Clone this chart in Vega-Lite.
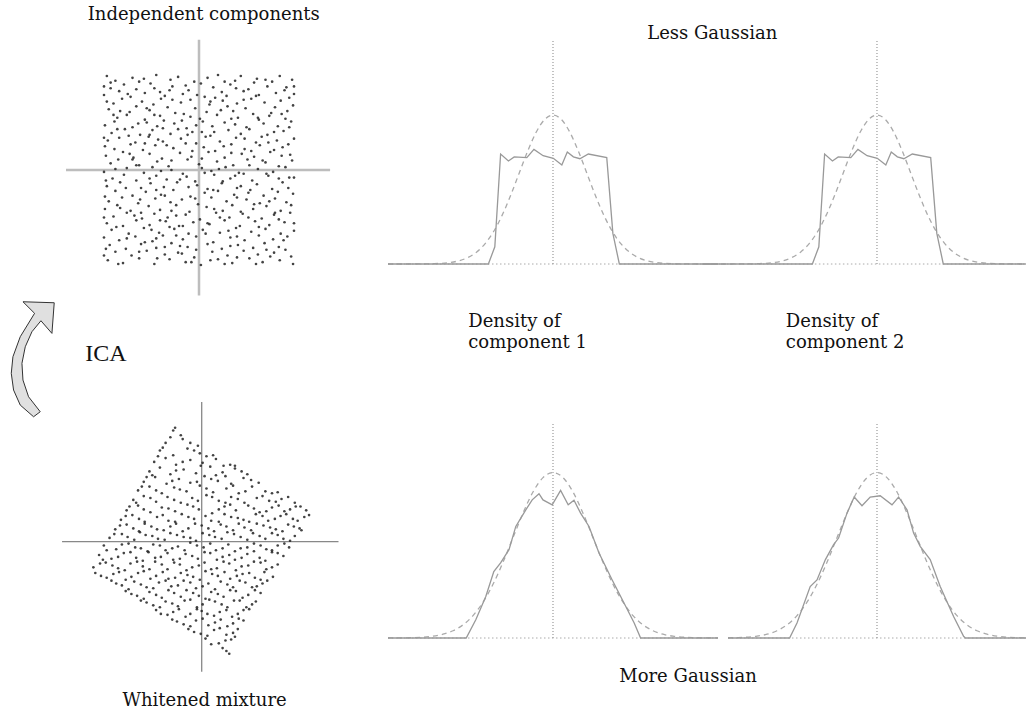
{
"$schema": "https://vega.github.io/schema/vega-lite/v6.json",
"width": 1030, "height": 710,
"autosize": {"type": "none"},
"padding": 0,
"background": "white",
"config": {"view": {"stroke": null}},
"datasets": {
"gauss": [{"x":-5.12,"d":0},{"x":-4.85,"d":0},{"x":-4.38,"d":0},{"x":-4.125,"d":0.0001},{"x":-3.725,"d":0.0004},{"x":-3.5,"d":0.0009},{"x":-3,"d":0.0044},{"x":-2.75,"d":0.0091},{"x":-2.5,"d":0.0175},{"x":-2.25,"d":0.0317},{"x":-2,"d":0.054},{"x":-1.75,"d":0.0863},{"x":-1.5,"d":0.1295},{"x":-1.25,"d":0.1826},{"x":-1,"d":0.242},{"x":-0.75,"d":0.3011},{"x":-0.5,"d":0.3521},{"x":-0.25,"d":0.3867},{"x":0,"d":0.3989},{"x":0.25,"d":0.3867},{"x":0.5,"d":0.3521},{"x":0.75,"d":0.3011},{"x":1,"d":0.242},{"x":1.25,"d":0.1826},{"x":1.5,"d":0.1295},{"x":1.75,"d":0.0863},{"x":2,"d":0.054},{"x":2.25,"d":0.0317},{"x":2.5,"d":0.0175},{"x":2.75,"d":0.0091},{"x":3,"d":0.0044},{"x":3.5,"d":0.0009},{"x":3.725,"d":0.0004},{"x":4.125,"d":0.0001},{"x":4.38,"d":0},{"x":4.85,"d":0},{"x":5.12,"d":0}],
"top": [{"x":-5.12,"d":0},{"x":-4.85,"d":0},{"x":-1.9,"d":0},{"x":-1.71,"d":0.046},{"x":-1.54,"d":0.2945},{"x":-1.31,"d":0.276},{"x":-1.14,"d":0.287},{"x":-0.77,"d":0.285},{"x":-0.56,"d":0.307},{"x":-0.29,"d":0.29},{"x":0.01,"d":0.283},{"x":0.26,"d":0.265},{"x":0.42,"d":0.3},{"x":0.6,"d":0.287},{"x":0.79,"d":0.282},{"x":1.04,"d":0.2945},{"x":1.58,"d":0.285},{"x":1.76,"d":0.082},{"x":1.95,"d":0},{"x":4.38,"d":0},{"x":4.85,"d":0}],
"bot1": [{"x":-4.125,"d":0},{"x":-2.17,"d":0},{"x":-1.93,"d":0.044},{"x":-1.68,"d":0.1},{"x":-1.48,"d":0.16},{"x":-1.31,"d":0.181},{"x":-1.1,"d":0.213},{"x":-0.93,"d":0.269},{"x":-0.68,"d":0.309},{"x":-0.52,"d":0.333},{"x":-0.35,"d":0.348},{"x":-0.25,"d":0.333},{"x":-0.02,"d":0.321},{"x":0.19,"d":0.356},{"x":0.38,"d":0.321},{"x":0.525,"d":0.332},{"x":0.69,"d":0.301},{"x":0.9,"d":0.269},{"x":1.15,"d":0.205},{"x":1.48,"d":0.14},{"x":1.82,"d":0.076},{"x":2.03,"d":0.036},{"x":2.19,"d":0},{"x":4.125,"d":0}],
"bot2": [{"x":-3.725,"d":0},{"x":-2.185,"d":0},{"x":-2,"d":0.036},{"x":-1.67,"d":0.124},{"x":-1.5,"d":0.14},{"x":-1.29,"d":0.189},{"x":-1.085,"d":0.225},{"x":-0.96,"d":0.241},{"x":-0.75,"d":0.301},{"x":-0.57,"d":0.34},{"x":-0.375,"d":0.319},{"x":-0.17,"d":0.34},{"x":0.08,"d":0.343},{"x":0.375,"d":0.321},{"x":0.54,"d":0.34},{"x":0.75,"d":0.309},{"x":0.915,"d":0.253},{"x":1.08,"d":0.221},{"x":1.33,"d":0.189},{"x":1.58,"d":0.124},{"x":1.915,"d":0.052},{"x":2.165,"d":0.004},{"x":2.21,"d":0},{"x":3.725,"d":0}],
"s1": [
{"x":-97,"y":99},{"x":-88,"y":94},{"x":-70,"y":97},{"x":-63,"y":93},{"x":-45,"y":100},{"x":-30,"y":95},{"x":-22,"y":98},{"x":-5,"y":93},{"x":9,"y":97},{"x":20,"y":100},{"x":38,"y":94},{"x":44,"y":99},{"x":61,"y":96},{"x":77,"y":93},{"x":85,"y":99},{"x":98,"y":95},
{"x":-93,"y":86},{"x":-79,"y":90},{"x":-66,"y":85},{"x":-51,"y":91},{"x":-47,"y":86},{"x":-28,"y":88},{"x":-11,"y":84},{"x":2,"y":91},{"x":15,"y":87},{"x":33,"y":90},{"x":52,"y":85},{"x":58,"y":92},{"x":72,"y":88},{"x":90,"y":84},
{"x":-100,"y":79},{"x":-84,"y":83},{"x":-72,"y":77},{"x":-57,"y":81},{"x":-36,"y":78},{"x":-31,"y":84},{"x":-17,"y":80},{"x":6,"y":77},{"x":24,"y":82},{"x":29,"y":78},{"x":47,"y":83},{"x":63,"y":79},{"x":81,"y":81},{"x":95,"y":76},
{"x":-90,"y":70},{"x":-81,"y":75},{"x":-60,"y":72},{"x":-48,"y":69},{"x":-40,"y":75},{"x":-19,"y":71},{"x":-9,"y":74},{"x":11,"y":69},{"x":25,"y":73},{"x":40,"y":70},{"x":55,"y":75},{"x":69,"y":71},{"x":86,"y":73},{"x":99,"y":68},
{"x":-95,"y":64},{"x":-73,"y":61},{"x":-66,"y":67},{"x":-52,"y":63},{"x":-33,"y":66},{"x":-25,"y":60},{"x":-4,"y":65},{"x":8,"y":61},{"x":30,"y":67},{"x":36,"y":62},{"x":49,"y":65},{"x":76,"y":60},{"x":80,"y":66},{"x":93,"y":62},
{"x":-86,"y":55},{"x":-76,"y":58},{"x":-57,"y":53},{"x":-41,"y":57},{"x":-37,"y":52},{"x":-16,"y":59},{"x":1,"y":54},{"x":19,"y":58},{"x":41,"y":55},{"x":57,"y":59},{"x":63,"y":53},{"x":74,"y":57},{"x":91,"y":54},
{"x":-99,"y":47},{"x":-89,"y":51},{"x":-70,"y":45},{"x":-55,"y":50},{"x":-44,"y":46},{"x":-26,"y":49},{"x":-13,"y":44},{"x":4,"y":51},{"x":14,"y":46},{"x":27,"y":50},{"x":50,"y":45},{"x":68,"y":49},{"x":83,"y":46},{"x":97,"y":51},
{"x":-92,"y":39},{"x":-78,"y":43},{"x":-62,"y":37},{"x":-49,"y":42},{"x":-30,"y":38},{"x":-22,"y":43},{"x":-7,"y":40},{"x":12,"y":36},{"x":31,"y":42},{"x":44,"y":38},{"x":53,"y":43},{"x":72,"y":37},{"x":89,"y":41},
{"x":-96,"y":31},{"x":-84,"y":34},{"x":-67,"y":29},{"x":-53,"y":35},{"x":-38,"y":30},{"x":-19,"y":33},{"x":-3,"y":28},{"x":7,"y":35},{"x":22,"y":30},{"x":39,"y":34},{"x":60,"y":29},{"x":66,"y":35},{"x":82,"y":31},{"x":100,"y":33},
{"x":-89,"y":22},{"x":-72,"y":27},{"x":-59,"y":21},{"x":-46,"y":26},{"x":-27,"y":23},{"x":-14,"y":28},{"x":5,"y":24},{"x":17,"y":20},{"x":34,"y":27},{"x":48,"y":22},{"x":64,"y":26},{"x":79,"y":21},{"x":94,"y":27},
{"x":-98,"y":15},{"x":-80,"y":19},{"x":-69,"y":13},{"x":-52,"y":17},{"x":-39,"y":12},{"x":-20,"y":18},{"x":-8,"y":14},{"x":10,"y":19},{"x":27,"y":13},{"x":45,"y":17},{"x":58,"y":14},{"x":75,"y":19},{"x":87,"y":15},
{"x":-93,"y":7},{"x":-85,"y":11},{"x":-63,"y":5},{"x":-44,"y":9},{"x":-32,"y":4},{"x":-12,"y":11},{"x":0,"y":6},{"x":19,"y":9},{"x":36,"y":5},{"x":51,"y":11},{"x":70,"y":8},{"x":84,"y":4},{"x":98,"y":10},
{"x":-100,"y":-2},{"x":-76,"y":2},{"x":-58,"y":-3},{"x":-49,"y":3},{"x":-29,"y":0},{"x":-17,"y":-4},{"x":3,"y":2},{"x":13,"y":-1},{"x":28,"y":3},{"x":42,"y":-3},{"x":62,"y":1},{"x":78,"y":-2},{"x":91,"y":3},
{"x":-91,"y":-9},{"x":-79,"y":-5},{"x":-66,"y":-11},{"x":-45,"y":-6},{"x":-34,"y":-10},{"x":-13,"y":-7},{"x":-4,"y":-12},{"x":16,"y":-5},{"x":33,"y":-9},{"x":47,"y":-4},{"x":56,"y":-11},{"x":73,"y":-6},{"x":95,"y":-8},
{"x":-97,"y":-17},{"x":-83,"y":-13},{"x":-61,"y":-19},{"x":-51,"y":-14},{"x":-37,"y":-18},{"x":-23,"y":-13},{"x":-2,"y":-16},{"x":9,"y":-20},{"x":24,"y":-14},{"x":40,"y":-19},{"x":61,"y":-15},{"x":77,"y":-20},{"x":88,"y":-13},
{"x":-88,"y":-22},{"x":-70,"y":-27},{"x":-56,"y":-23},{"x":-40,"y":-26},{"x":-27,"y":-21},{"x":-9,"y":-28},{"x":6,"y":-24},{"x":20,"y":-22},{"x":37,"y":-26},{"x":54,"y":-21},{"x":68,"y":-27},{"x":83,"y":-23},{"x":99,"y":-25},
{"x":-95,"y":-33},{"x":-81,"y":-29},{"x":-64,"y":-35},{"x":-46,"y":-30},{"x":-30,"y":-34},{"x":-18,"y":-31},{"x":-1,"y":-36},{"x":13,"y":-29},{"x":29,"y":-33},{"x":50,"y":-31},{"x":64,"y":-35},{"x":80,"y":-30},{"x":92,"y":-34},
{"x":-99,"y":-41},{"x":-86,"y":-37},{"x":-72,"y":-43},{"x":-53,"y":-38},{"x":-41,"y":-42},{"x":-24,"y":-37},{"x":-10,"y":-44},{"x":8,"y":-39},{"x":25,"y":-43},{"x":35,"y":-37},{"x":57,"y":-41},{"x":71,"y":-38},{"x":86,"y":-43},
{"x":-90,"y":-49},{"x":-76,"y":-45},{"x":-60,"y":-51},{"x":-47,"y":-46},{"x":-33,"y":-50},{"x":-14,"y":-47},{"x":1,"y":-52},{"x":18,"y":-45},{"x":32,"y":-50},{"x":46,"y":-46},{"x":66,"y":-51},{"x":79,"y":-47},{"x":96,"y":-45},
{"x":-97,"y":-56},{"x":-80,"y":-59},{"x":-66,"y":-53},{"x":-52,"y":-58},{"x":-35,"y":-54},{"x":-21,"y":-59},{"x":-6,"y":-55},{"x":11,"y":-57},{"x":27,"y":-53},{"x":43,"y":-59},{"x":59,"y":-54},{"x":74,"y":-58},{"x":90,"y":-55},
{"x":-92,"y":-63},{"x":-74,"y":-67},{"x":-58,"y":-61},{"x":-42,"y":-66},{"x":-26,"y":-62},{"x":-11,"y":-67},{"x":4,"y":-63},{"x":22,"y":-66},{"x":39,"y":-61},{"x":55,"y":-65},{"x":70,"y":-62},{"x":86,"y":-67},{"x":100,"y":-64},
{"x":-100,"y":-71},{"x":-84,"y":-74},{"x":-67,"y":-70},{"x":-49,"y":-75},{"x":-38,"y":-69},{"x":-17,"y":-73},{"x":-3,"y":-70},{"x":15,"y":-76},{"x":33,"y":-71},{"x":48,"y":-74},{"x":63,"y":-69},{"x":78,"y":-73},{"x":93,"y":-70},
{"x":-94,"y":-79},{"x":-77,"y":-83},{"x":-61,"y":-78},{"x":-45,"y":-82},{"x":-29,"y":-77},{"x":-12,"y":-81},{"x":9,"y":-78},{"x":24,"y":-83},{"x":41,"y":-79},{"x":57,"y":-82},{"x":69,"y":-77},{"x":84,"y":-81},
{"x":-88,"y":-86},{"x":-71,"y":-90},{"x":-55,"y":-85},{"x":-36,"y":-89},{"x":-22,"y":-87},{"x":-5,"y":-92},{"x":14,"y":-86},{"x":30,"y":-90},{"x":47,"y":-85},{"x":62,"y":-89},{"x":79,"y":-87},{"x":97,"y":-91},
{"x":-96,"y":-95},{"x":-80,"y":-98},{"x":-63,"y":-93},{"x":-47,"y":-99},{"x":-31,"y":-94},{"x":-14,"y":-97},{"x":2,"y":-100},{"x":20,"y":-94},{"x":35,"y":-98},{"x":53,"y":-93},{"x":67,"y":-97},{"x":85,"y":-95},{"x":99,"y":-99},
{"x":-93,"y":92},{"x":-58,"y":96},{"x":-14,"y":89},{"x":27,"y":93},{"x":70,"y":95},{"x":-75,"y":80},{"x":-41,"y":82},{"x":-2,"y":79},{"x":39,"y":86},{"x":92,"y":87},{"x":-97,"y":72},{"x":-28,"y":74},{"x":17,"y":76},{"x":60,"y":78},{"x":-83,"y":62},{"x":-47,"y":58},{"x":-9,"y":56},{"x":23,"y":63},{"x":87,"y":59},{"x":-64,"y":49},{"x":-18,"y":52},{"x":38,"y":48},{"x":62,"y":55},{"x":-86,"y":43},{"x":-38,"y":44},{"x":-3,"y":47},{"x":79,"y":40},{"x":95,"y":45},{"x":-74,"y":36},{"x":-43,"y":32},{"x":-12,"y":37},{"x":16,"y":40},{"x":48,"y":33},{"x":73,"y":29},{"x":-99,"y":25},{"x":-57,"y":28},{"x":-34,"y":26},{"x":26,"y":25},{"x":55,"y":20},{"x":88,"y":24},{"x":-73,"y":17},{"x":-29,"y":10},{"x":3,"y":12},{"x":34,"y":18},{"x":67,"y":10},{"x":96,"y":16},{"x":-88,"y":1},{"x":-66,"y":5},{"x":-40,"y":-1},{"x":6,"y":-3},{"x":21,"y":1},{"x":53,"y":5},{"x":71,"y":-4},{"x":-98,"y":-11},{"x":-52,"y":-9},{"x":-20,"y":-10},{"x":25,"y":-12},{"x":38,"y":-6},{"x":84,"y":-9},{"x":-77,"y":-19},{"x":-45,"y":-21},{"x":-11,"y":-18},{"x":15,"y":-21},{"x":52,"y":-24},{"x":94,"y":-19},{"x":-99,"y":-28},{"x":-62,"y":-31},{"x":-36,"y":-27},{"x":-4,"y":-30},{"x":40,"y":-29},{"x":74,"y":-33},{"x":-83,"y":-40},{"x":-61,"y":-45},{"x":-29,"y":-43},{"x":16,"y":-41},{"x":44,"y":-44},{"x":97,"y":-37},{"x":-68,"y":-48},{"x":-41,"y":-53},{"x":-24,"y":-48},{"x":9,"y":-56},{"x":52,"y":-50},{"x":84,"y":-52},{"x":-87,"y":-60},{"x":-50,"y":-63},{"x":-17,"y":-59},{"x":31,"y":-64},{"x":63,"y":-60},{"x":-76,"y":-72},{"x":-57,"y":-76},{"x":-24,"y":-69},{"x":7,"y":-67},{"x":40,"y":-70},{"x":89,"y":-74},{"x":-98,"y":-83},{"x":-36,"y":-81},{"x":-3,"y":-84},{"x":33,"y":-80},{"x":71,"y":-84},{"x":-63,"y":-86},{"x":-44,"y":-93},{"x":-18,"y":-88},{"x":12,"y":-95},{"x":40,"y":-92},{"x":75,"y":-91},{"x":91,"y":-84},{"x":-85,"y":-99},{"x":-8,"y":-97},{"x":27,"y":-99},{"x":60,"y":-99},{"x":-100,"y":88},{"x":-90,"y":58},{"x":-100,"y":34},{"x":-100,"y":-50},{"x":-100,"y":-90},{"x":100,"y":80},{"x":100,"y":-8},{"x":100,"y":-56},{"x":100,"y":88},{"x":-55,"y":65},{"x":12,"y":72},{"x":47,"y":74},{"x":-70,"y":11},{"x":80,"y":-45},{"x":-20,"y":-80},{"x":58,"y":-36},{"x":-52,"y":37},{"x":34,"y":54},{"x":-31,"y":-60},{"x":3,"y":40},{"x":22,"y":-50},{"x":-7,"y":20},{"x":44,"y":-17},{"x":-45,"y":-72}
],
"s2": [
{"x":-30,"y":117},{"x":-22,"y":112},
{"x":-38,"y":104},{"x":-20,"y":108},{"x":-4,"y":101},
{"x":-44,"y":96},{"x":-30,"y":91},{"x":-15,"y":98},{"x":-2,"y":93},{"x":12,"y":91},
{"x":-50,"y":84},{"x":-38,"y":88},{"x":-27,"y":81},{"x":-12,"y":86},{"x":1,"y":83},{"x":15,"y":87},{"x":30,"y":81},
{"x":-55,"y":74},{"x":-44,"y":78},{"x":-33,"y":71},{"x":-19,"y":76},{"x":-6,"y":72},{"x":9,"y":79},{"x":22,"y":73},{"x":35,"y":77},{"x":48,"y":71},
{"x":-61,"y":63},{"x":-49,"y":68},{"x":-37,"y":61},{"x":-24,"y":66},{"x":-12,"y":62},{"x":3,"y":69},{"x":17,"y":64},{"x":31,"y":61},{"x":44,"y":67},{"x":60,"y":62},
{"x":-67,"y":54},{"x":-55,"y":58},{"x":-42,"y":51},{"x":-29,"y":57},{"x":-16,"y":53},{"x":-2,"y":59},{"x":12,"y":52},{"x":26,"y":56},{"x":39,"y":51},{"x":53,"y":58},{"x":67,"y":53},{"x":80,"y":52},
{"x":-72,"y":44},{"x":-61,"y":48},{"x":-48,"y":42},{"x":-36,"y":47},{"x":-22,"y":41},{"x":-10,"y":46},{"x":5,"y":49},{"x":18,"y":43},{"x":31,"y":47},{"x":45,"y":41},{"x":58,"y":46},{"x":71,"y":43},{"x":84,"y":45},{"x":98,"y":41},
{"x":-79,"y":33},{"x":-67,"y":38},{"x":-54,"y":31},{"x":-42,"y":36},{"x":-28,"y":32},{"x":-15,"y":39},{"x":-3,"y":34},{"x":11,"y":30},{"x":24,"y":37},{"x":36,"y":33},{"x":49,"y":38},{"x":61,"y":31},{"x":74,"y":36},{"x":87,"y":32},{"x":99,"y":37},{"x":110,"y":33},
{"x":-85,"y":23},{"x":-73,"y":28},{"x":-60,"y":21},{"x":-47,"y":26},{"x":-35,"y":22},{"x":-21,"y":29},{"x":-8,"y":24},{"x":4,"y":27},{"x":18,"y":21},{"x":31,"y":26},{"x":44,"y":23},{"x":57,"y":29},{"x":70,"y":22},{"x":83,"y":27},{"x":96,"y":24},{"x":108,"y":26},
{"x":-91,"y":13},{"x":-79,"y":18},{"x":-66,"y":11},{"x":-53,"y":16},{"x":-40,"y":12},{"x":-27,"y":19},{"x":-14,"y":14},{"x":0,"y":17},{"x":13,"y":11},{"x":26,"y":16},{"x":39,"y":19},{"x":52,"y":12},{"x":65,"y":17},{"x":78,"y":13},{"x":91,"y":18},{"x":103,"y":14},
{"x":-97,"y":4},{"x":-84,"y":8},{"x":-71,"y":2},{"x":-59,"y":7},{"x":-46,"y":3},{"x":-33,"y":9},{"x":-19,"y":5},{"x":-6,"y":1},{"x":8,"y":7},{"x":21,"y":3},{"x":34,"y":8},{"x":48,"y":2},{"x":61,"y":6},{"x":74,"y":9},{"x":86,"y":3},{"x":98,"y":6},
{"x":-103,"y":-4},{"x":-90,"y":-8},{"x":-77,"y":-2},{"x":-64,"y":-7},{"x":-51,"y":-3},{"x":-38,"y":-9},{"x":-25,"y":-5},{"x":-12,"y":-1},{"x":2,"y":-6},{"x":15,"y":-9},{"x":28,"y":-3},{"x":41,"y":-7},{"x":55,"y":-2},{"x":68,"y":-8},{"x":80,"y":-4},{"x":92,"y":-6},
{"x":-108,"y":-14},{"x":-95,"y":-18},{"x":-82,"y":-12},{"x":-69,"y":-17},{"x":-56,"y":-11},{"x":-43,"y":-16},{"x":-30,"y":-19},{"x":-17,"y":-13},{"x":-4,"y":-18},{"x":9,"y":-12},{"x":22,"y":-16},{"x":35,"y":-19},{"x":48,"y":-13},{"x":61,"y":-17},{"x":74,"y":-11},{"x":86,"y":-15},
{"x":-114,"y":-27},{"x":-101,"y":-22},{"x":-88,"y":-28},{"x":-75,"y":-23},{"x":-62,"y":-26},{"x":-49,"y":-21},{"x":-36,"y":-29},{"x":-23,"y":-24},{"x":-10,"y":-27},{"x":3,"y":-22},{"x":16,"y":-28},{"x":29,"y":-23},{"x":42,"y":-26},{"x":55,"y":-21},{"x":68,"y":-29},{"x":80,"y":-24},
{"x":-112,"y":-33},{"x":-100,"y":-38},{"x":-87,"y":-32},{"x":-74,"y":-37},{"x":-61,"y":-31},{"x":-48,"y":-36},{"x":-35,"y":-39},{"x":-22,"y":-33},{"x":-9,"y":-37},{"x":4,"y":-31},{"x":17,"y":-36},{"x":30,"y":-39},{"x":43,"y":-34},{"x":56,"y":-38},{"x":66,"y":-32},{"x":75,"y":-37},
{"x":-95,"y":-41},{"x":-84,"y":-46},{"x":-71,"y":-42},{"x":-58,"y":-48},{"x":-45,"y":-43},{"x":-32,"y":-47},{"x":-19,"y":-41},{"x":-6,"y":-49},{"x":7,"y":-44},{"x":20,"y":-42},{"x":33,"y":-48},{"x":46,"y":-43},{"x":58,"y":-47},{"x":69,"y":-41},
{"x":-80,"y":-52},{"x":-68,"y":-57},{"x":-55,"y":-53},{"x":-42,"y":-59},{"x":-29,"y":-54},{"x":-16,"y":-51},{"x":-3,"y":-57},{"x":10,"y":-53},{"x":23,"y":-58},{"x":36,"y":-52},{"x":49,"y":-56},{"x":62,"y":-54},
{"x":-64,"y":-62},{"x":-51,"y":-67},{"x":-38,"y":-63},{"x":-25,"y":-68},{"x":-12,"y":-61},{"x":1,"y":-66},{"x":14,"y":-63},{"x":27,"y":-69},{"x":40,"y":-62},{"x":53,"y":-66},
{"x":-48,"y":-72},{"x":-36,"y":-77},{"x":-24,"y":-71},{"x":-12,"y":-76},{"x":0,"y":-73},{"x":13,"y":-78},{"x":26,"y":-72},{"x":38,"y":-76},{"x":50,"y":-71},
{"x":-31,"y":-82},{"x":-19,"y":-87},{"x":-6,"y":-83},{"x":7,"y":-88},{"x":20,"y":-82},{"x":33,"y":-86},{"x":44,"y":-83},
{"x":-14,"y":-92},{"x":-1,"y":-97},{"x":13,"y":-93},{"x":26,"y":-98},{"x":38,"y":-92},
{"x":4,"y":-102},{"x":18,"y":-107},{"x":31,"y":-103},
{"x":22,"y":-112},{"x":29,"y":-118},
{"x":-33,"y":110},{"x":-12,"y":104},{"x":-28,"y":120},
{"x":-41,"y":99},{"x":-8,"y":96},{"x":5,"y":90},
{"x":-46,"y":90},{"x":-20,"y":84},{"x":23,"y":80},{"x":35,"y":80},
{"x":-52,"y":70},{"x":-27,"y":75},{"x":-1,"y":80},{"x":15,"y":70},{"x":42,"y":74},
{"x":-58,"y":68},{"x":-31,"y":64},{"x":-5,"y":63},{"x":10,"y":66},{"x":25,"y":69},{"x":52,"y":65},
{"x":-63,"y":58},{"x":-48,"y":54},{"x":-23,"y":55},{"x":5,"y":56},{"x":33,"y":59},{"x":46,"y":53},{"x":74,"y":51},
{"x":-69,"y":41},{"x":-54,"y":46},{"x":-29,"y":44},{"x":-4,"y":43},{"x":11,"y":47},{"x":25,"y":41},{"x":38,"y":45},{"x":64,"y":48},{"x":78,"y":42},{"x":91,"y":47},
{"x":-76,"y":37},{"x":-61,"y":34},{"x":-35,"y":35},{"x":-9,"y":37},{"x":18,"y":34},{"x":30,"y":39},{"x":55,"y":35},{"x":68,"y":32},{"x":81,"y":38},{"x":93,"y":34},{"x":104,"y":37},
{"x":-80,"y":27},{"x":-66,"y":24},{"x":-41,"y":28},{"x":-28,"y":21},{"x":-14,"y":26},{"x":10,"y":22},{"x":24,"y":29},{"x":38,"y":25},{"x":50,"y":21},{"x":64,"y":27},{"x":77,"y":24},{"x":89,"y":29},{"x":101,"y":22},{"x":113,"y":28},
{"x":-86,"y":17},{"x":-72,"y":14},{"x":-60,"y":19},{"x":-47,"y":13},{"x":-33,"y":16},{"x":-20,"y":11},{"x":-7,"y":19},{"x":7,"y":14},{"x":20,"y":18},{"x":33,"y":12},{"x":45,"y":15},{"x":58,"y":19},{"x":72,"y":15},{"x":85,"y":11},{"x":97,"y":16},{"x":105,"y":12},
{"x":-92,"y":8},{"x":-78,"y":5},{"x":-65,"y":10},{"x":-52,"y":6},{"x":-39,"y":2},{"x":-26,"y":7},{"x":-12,"y":4},{"x":1,"y":9},{"x":14,"y":5},{"x":27,"y":10},{"x":41,"y":5},{"x":54,"y":9},{"x":67,"y":3},{"x":80,"y":7},{"x":93,"y":1},
{"x":-100,"y":-9},{"x":-84,"y":-3},{"x":-70,"y":-6},{"x":-57,"y":-10},{"x":-44,"y":-4},{"x":-31,"y":-7},{"x":-18,"y":-9},{"x":-5,"y":-4},{"x":9,"y":-2},{"x":22,"y":-7},{"x":35,"y":-10},{"x":48,"y":-6},{"x":62,"y":-4},{"x":74,"y":-9},{"x":87,"y":-2},
{"x":-104,"y":-19},{"x":-88,"y":-16},{"x":-75,"y":-11},{"x":-62,"y":-20},{"x":-49,"y":-17},{"x":-36,"y":-12},{"x":-23,"y":-18},{"x":-10,"y":-15},{"x":3,"y":-11},{"x":16,"y":-19},{"x":29,"y":-14},{"x":42,"y":-17},{"x":55,"y":-10},{"x":67,"y":-20},{"x":80,"y":-12},
{"x":-107,"y":-23},{"x":-94,"y":-25},{"x":-81,"y":-30},{"x":-68,"y":-21},{"x":-55,"y":-29},{"x":-42,"y":-24},{"x":-29,"y":-22},{"x":-16,"y":-30},{"x":-3,"y":-25},{"x":10,"y":-29},{"x":23,"y":-21},{"x":36,"y":-30},{"x":49,"y":-25},{"x":62,"y":-22},{"x":74,"y":-27},
{"x":-106,"y":-36},{"x":-93,"y":-34},{"x":-80,"y":-40},{"x":-67,"y":-33},{"x":-54,"y":-39},{"x":-41,"y":-32},{"x":-28,"y":-38},{"x":-15,"y":-35},{"x":-2,"y":-40},{"x":11,"y":-34},{"x":24,"y":-32},{"x":37,"y":-36},{"x":50,"y":-33},{"x":62,"y":-40},
{"x":-90,"y":-44},{"x":-77,"y":-50},{"x":-64,"y":-45},{"x":-51,"y":-49},{"x":-38,"y":-41},{"x":-25,"y":-46},{"x":-12,"y":-43},{"x":1,"y":-47},{"x":14,"y":-50},{"x":27,"y":-45},{"x":40,"y":-41},{"x":53,"y":-48},{"x":64,"y":-44},
{"x":-74,"y":-55},{"x":-61,"y":-60},{"x":-48,"y":-56},{"x":-35,"y":-51},{"x":-22,"y":-58},{"x":-9,"y":-54},{"x":4,"y":-60},{"x":17,"y":-55},{"x":30,"y":-51},{"x":43,"y":-59},{"x":56,"y":-51},
{"x":-58,"y":-64},{"x":-44,"y":-69},{"x":-31,"y":-65},{"x":-18,"y":-62},{"x":-5,"y":-69},{"x":8,"y":-61},{"x":21,"y":-66},{"x":34,"y":-62},{"x":47,"y":-69},{"x":57,"y":-63},
{"x":-43,"y":-76},{"x":-30,"y":-74},{"x":-17,"y":-79},{"x":-5,"y":-71},{"x":6,"y":-76},{"x":19,"y":-74},{"x":32,"y":-79},{"x":44,"y":-72},
{"x":-26,"y":-84},{"x":-12,"y":-89},{"x":1,"y":-81},{"x":14,"y":-85},{"x":27,"y":-89},{"x":39,"y":-81},
{"x":-8,"y":-95},{"x":6,"y":-99},{"x":19,"y":-91},{"x":33,"y":-96},
{"x":10,"y":-108},{"x":25,"y":-104},{"x":35,"y":-100},
{"x":26,"y":-115}
]
},
"data": {"values": [{}]},
"resolve": {"scale": {"x": "independent", "y": "independent"}},
"layer": [
{"layer": [
{"mark": {"type": "rule", "color": "#bdbdbd", "strokeWidth": 2.5}, "encoding": {"x": {"datum": -140, "type": "quantitative", "scale": {"domain": [-150,150], "range": [56.5,341.5], "nice": false, "zero": false}, "axis": null}, "x2": {"datum": 138}, "y": {"datum": 0, "type": "quantitative", "scale": {"domain": [-150,150], "range": [312.5,27.5], "nice": false, "zero": false}, "axis": null}}},
{"mark": {"type": "rule", "color": "#bdbdbd", "strokeWidth": 2.5}, "encoding": {"x": {"datum": 0, "type": "quantitative", "scale": {"domain": [-150,150], "range": [56.5,341.5], "nice": false, "zero": false}, "axis": null}, "y": {"datum": -132, "type": "quantitative", "scale": {"domain": [-150,150], "range": [312.5,27.5], "nice": false, "zero": false}, "axis": null}, "y2": {"datum": 137}}},
{"data": {"name": "s1"}, "mark": {"type": "point", "filled": true, "size": 7, "color": "#222", "opacity": 0.85}, "encoding": {"x": {"field": "x", "type": "quantitative", "scale": {"domain": [-150,150], "range": [56.5,341.5], "nice": false, "zero": false}, "axis": null}, "y": {"field": "y", "type": "quantitative", "scale": {"domain": [-150,150], "range": [312.5,27.5], "nice": false, "zero": false}, "axis": null}}},
{"mark": {"type": "text", "text": "Independent components", "font": "DejaVu Serif", "fontSize": 18, "align": "center", "baseline": "alphabetic", "color": "#111"}, "encoding": {"x": {"datum": 5, "type": "quantitative", "scale": {"domain": [-150,150], "range": [56.5,341.5], "nice": false, "zero": false}, "axis": null}, "y": {"datum": 158, "type": "quantitative", "scale": {"domain": [-150,150], "range": [312.5,27.5], "nice": false, "zero": false}, "axis": null}}},
{"mark": {"type": "text", "text": "ICA", "font": "Liberation Serif", "fontSize": 24, "align": "center", "baseline": "alphabetic", "color": "#111"}, "encoding": {"x": {"datum": -98, "type": "quantitative", "scale": {"domain": [-150,150], "range": [56.5,341.5], "nice": false, "zero": false}, "axis": null}, "y": {"datum": -201, "type": "quantitative", "scale": {"domain": [-150,150], "range": [312.5,27.5], "nice": false, "zero": false}, "axis": null}}},
{"mark": {"type": "point", "shape": "M-0.166,-0.971L0.364,-0.954L0.325,-0.435L0.139,-0.649L-0.014,-0.463L-0.127,-0.208L-0.183,0.073L-0.166,0.356L-0.071,0.639L0.127,0.893L0.014,0.978L-0.212,0.78L-0.325,0.525L-0.364,0.242L-0.336,-0.039L-0.212,-0.378L0.031,-0.775Z", "size": 13924, "filled": true, "fill": "#e0e0e0", "stroke": "#333", "strokeWidth": 1, "opacity": 1, "fillOpacity": 1}, "encoding": {"x": {"datum": -175, "type": "quantitative", "scale": {"domain": [-150,150], "range": [56.5,341.5], "nice": false, "zero": false}, "axis": null}, "y": {"datum": -199, "type": "quantitative", "scale": {"domain": [-150,150], "range": [312.5,27.5], "nice": false, "zero": false}, "axis": null}}}
]},
{"layer": [
{"mark": {"type": "rule", "color": "#888", "strokeWidth": 1.3}, "encoding": {"x": {"datum": -147, "type": "quantitative", "scale": {"domain": [-150,150], "range": [59.2,344.2], "nice": false, "zero": false}, "axis": null}, "x2": {"datum": 144}, "y": {"datum": 0, "type": "quantitative", "scale": {"domain": [-150,150], "range": [684.2,399.2], "nice": false, "zero": false}, "axis": null}}},
{"mark": {"type": "rule", "color": "#888", "strokeWidth": 1.3}, "encoding": {"x": {"datum": 0, "type": "quantitative", "scale": {"domain": [-150,150], "range": [59.2,344.2], "nice": false, "zero": false}, "axis": null}, "y": {"datum": -137, "type": "quantitative", "scale": {"domain": [-150,150], "range": [684.2,399.2], "nice": false, "zero": false}, "axis": null}, "y2": {"datum": 147}}},
{"data": {"name": "s2"}, "mark": {"type": "point", "filled": true, "size": 7, "color": "#222", "opacity": 0.85}, "encoding": {"x": {"field": "x", "type": "quantitative", "scale": {"domain": [-150,150], "range": [59.2,344.2], "nice": false, "zero": false}, "axis": null}, "y": {"field": "y", "type": "quantitative", "scale": {"domain": [-150,150], "range": [684.2,399.2], "nice": false, "zero": false}, "axis": null}}},
{"mark": {"type": "text", "text": "Whitened mixture", "font": "DejaVu Serif", "fontSize": 18, "align": "center", "baseline": "alphabetic", "color": "#111"}, "encoding": {"x": {"datum": 3, "type": "quantitative", "scale": {"domain": [-150,150], "range": [59.2,344.2], "nice": false, "zero": false}, "axis": null}, "y": {"datum": -173, "type": "quantitative", "scale": {"domain": [-150,150], "range": [684.2,399.2], "nice": false, "zero": false}, "axis": null}}}
]},
{"layer": [
{"mark": {"type": "rule", "color": "#aaa", "strokeWidth": 1, "strokeDash": [1.5,2.5]}, "encoding": {"x": {"datum": -4.85, "type": "quantitative", "scale": {"domain": [-4.85,4.85], "range": [388,718], "nice": false, "zero": false}, "axis": null}, "x2": {"datum": 4.85}, "y": {"datum": 0, "type": "quantitative", "scale": {"domain": [0,0.6], "range": [264,40], "nice": false, "zero": false}, "axis": null}}},
{"mark": {"type": "rule", "color": "#999", "strokeWidth": 1.2, "strokeDash": [1,2]}, "encoding": {"x": {"datum": 0, "type": "quantitative", "scale": {"domain": [-4.85,4.85], "range": [388,718], "nice": false, "zero": false}, "axis": null}, "y": {"datum": 0, "type": "quantitative", "scale": {"domain": [0,0.6], "range": [264,40], "nice": false, "zero": false}, "axis": null}, "y2": {"datum": 0.6}}},
{"data": {"name": "gauss"}, "transform": [{"filter": {"field": "x", "range": [-4.86,4.86]}}], "mark": {"type": "line", "color": "#aaa", "strokeWidth": 1.3, "strokeDash": [5,4], "interpolate": "monotone"}, "encoding": {"x": {"field": "x", "type": "quantitative", "scale": {"domain": [-4.85,4.85], "range": [388,718], "nice": false, "zero": false}, "axis": null}, "y": {"field": "d", "type": "quantitative", "scale": {"domain": [0,0.6], "range": [264,40], "nice": false, "zero": false}, "axis": null}}},
{"data": {"name": "top"}, "transform": [{"filter": {"field": "x", "range": [-4.86,4.86]}}], "mark": {"type": "line", "color": "#999", "strokeWidth": 1.3}, "encoding": {"x": {"field": "x", "type": "quantitative", "scale": {"domain": [-4.85,4.85], "range": [388,718], "nice": false, "zero": false}, "axis": null}, "y": {"field": "d", "type": "quantitative", "scale": {"domain": [0,0.6], "range": [264,40], "nice": false, "zero": false}, "axis": null}}},
{"mark": {"type": "text", "text": "Less Gaussian", "font": "DejaVu Serif", "fontSize": 18, "align": "center", "baseline": "alphabetic", "color": "#111"}, "encoding": {"x": {"datum": 4.68, "type": "quantitative", "scale": {"domain": [-4.85,4.85], "range": [388,718], "nice": false, "zero": false}, "axis": null}, "y": {"datum": 0.604, "type": "quantitative", "scale": {"domain": [0,0.6], "range": [264,40], "nice": false, "zero": false}, "axis": null}}},
{"mark": {"type": "text", "text": ["Density of", "component 1"], "lineHeight": 21, "font": "DejaVu Serif", "fontSize": 18, "align": "left", "baseline": "alphabetic", "color": "#111"}, "encoding": {"x": {"datum": -2.49, "type": "quantitative", "scale": {"domain": [-4.85,4.85], "range": [388,718], "nice": false, "zero": false}, "axis": null}, "y": {"datum": -0.168, "type": "quantitative", "scale": {"domain": [0,0.6], "range": [264,40], "nice": false, "zero": false}, "axis": null}}}
]},
{"layer": [
{"mark": {"type": "rule", "color": "#aaa", "strokeWidth": 1, "strokeDash": [1.5,2.5]}, "encoding": {"x": {"datum": -5.12, "type": "quantitative", "scale": {"domain": [-5.12,4.38], "range": [702.9,1025.9], "nice": false, "zero": false}, "axis": null}, "x2": {"datum": 4.38}, "y": {"datum": 0, "type": "quantitative", "scale": {"domain": [0,0.6], "range": [264,40], "nice": false, "zero": false}, "axis": null}}},
{"mark": {"type": "rule", "color": "#999", "strokeWidth": 1.2, "strokeDash": [1,2]}, "encoding": {"x": {"datum": 0, "type": "quantitative", "scale": {"domain": [-5.12,4.38], "range": [702.9,1025.9], "nice": false, "zero": false}, "axis": null}, "y": {"datum": 0, "type": "quantitative", "scale": {"domain": [0,0.6], "range": [264,40], "nice": false, "zero": false}, "axis": null}, "y2": {"datum": 0.6}}},
{"data": {"name": "gauss"}, "transform": [{"filter": {"field": "x", "range": [-5.13,4.39]}}], "mark": {"type": "line", "color": "#aaa", "strokeWidth": 1.3, "strokeDash": [5,4], "interpolate": "monotone"}, "encoding": {"x": {"field": "x", "type": "quantitative", "scale": {"domain": [-5.12,4.38], "range": [702.9,1025.9], "nice": false, "zero": false}, "axis": null}, "y": {"field": "d", "type": "quantitative", "scale": {"domain": [0,0.6], "range": [264,40], "nice": false, "zero": false}, "axis": null}}},
{"data": {"name": "top"}, "transform": [{"filter": {"field": "x", "range": [-5.13,4.39]}}], "mark": {"type": "line", "color": "#999", "strokeWidth": 1.3}, "encoding": {"x": {"field": "x", "type": "quantitative", "scale": {"domain": [-5.12,4.38], "range": [702.9,1025.9], "nice": false, "zero": false}, "axis": null}, "y": {"field": "d", "type": "quantitative", "scale": {"domain": [0,0.6], "range": [264,40], "nice": false, "zero": false}, "axis": null}}},
{"mark": {"type": "text", "text": ["Density of", "component 2"], "lineHeight": 21, "font": "DejaVu Serif", "fontSize": 18, "align": "left", "baseline": "alphabetic", "color": "#111"}, "encoding": {"x": {"datum": -2.68, "type": "quantitative", "scale": {"domain": [-5.12,4.38], "range": [702.9,1025.9], "nice": false, "zero": false}, "axis": null}, "y": {"datum": -0.168, "type": "quantitative", "scale": {"domain": [0,0.6], "range": [264,40], "nice": false, "zero": false}, "axis": null}}}
]},
{"layer": [
{"mark": {"type": "rule", "color": "#aaa", "strokeWidth": 1, "strokeDash": [1.5,2.5]}, "encoding": {"x": {"datum": -4.125, "type": "quantitative", "scale": {"domain": [-4.125,4.125], "range": [388,718], "nice": false, "zero": false}, "axis": null}, "x2": {"datum": 4.125}, "y": {"datum": 0, "type": "quantitative", "scale": {"domain": [0,0.516], "range": [638,424], "nice": false, "zero": false}, "axis": null}}},
{"mark": {"type": "rule", "color": "#999", "strokeWidth": 1.2, "strokeDash": [1,2]}, "encoding": {"x": {"datum": 0, "type": "quantitative", "scale": {"domain": [-4.125,4.125], "range": [388,718], "nice": false, "zero": false}, "axis": null}, "y": {"datum": 0, "type": "quantitative", "scale": {"domain": [0,0.516], "range": [638,424], "nice": false, "zero": false}, "axis": null}, "y2": {"datum": 0.516}}},
{"data": {"name": "gauss"}, "transform": [{"filter": {"field": "x", "range": [-4.13,4.13]}}], "mark": {"type": "line", "color": "#aaa", "strokeWidth": 1.3, "strokeDash": [5,4], "interpolate": "monotone"}, "encoding": {"x": {"field": "x", "type": "quantitative", "scale": {"domain": [-4.125,4.125], "range": [388,718], "nice": false, "zero": false}, "axis": null}, "y": {"field": "d", "type": "quantitative", "scale": {"domain": [0,0.516], "range": [638,424], "nice": false, "zero": false}, "axis": null}}},
{"data": {"name": "bot1"}, "mark": {"type": "line", "color": "#999", "strokeWidth": 1.3}, "encoding": {"x": {"field": "x", "type": "quantitative", "scale": {"domain": [-4.125,4.125], "range": [388,718], "nice": false, "zero": false}, "axis": null}, "y": {"field": "d", "type": "quantitative", "scale": {"domain": [0,0.516], "range": [638,424], "nice": false, "zero": false}, "axis": null}}},
{"mark": {"type": "text", "text": "More Gaussian", "font": "DejaVu Serif", "fontSize": 18, "align": "center", "baseline": "alphabetic", "color": "#111"}, "encoding": {"x": {"datum": 3.375, "type": "quantitative", "scale": {"domain": [-4.125,4.125], "range": [388,718], "nice": false, "zero": false}, "axis": null}, "y": {"datum": -0.105, "type": "quantitative", "scale": {"domain": [0,0.516], "range": [638,424], "nice": false, "zero": false}, "axis": null}}}
]},
{"layer": [
{"mark": {"type": "rule", "color": "#aaa", "strokeWidth": 1, "strokeDash": [1.5,2.5]}, "encoding": {"x": {"datum": -3.725, "type": "quantitative", "scale": {"domain": [-3.725,3.725], "range": [728,1026], "nice": false, "zero": false}, "axis": null}, "x2": {"datum": 3.725}, "y": {"datum": 0, "type": "quantitative", "scale": {"domain": [0,0.516], "range": [638,424], "nice": false, "zero": false}, "axis": null}}},
{"mark": {"type": "rule", "color": "#999", "strokeWidth": 1.2, "strokeDash": [1,2]}, "encoding": {"x": {"datum": 0, "type": "quantitative", "scale": {"domain": [-3.725,3.725], "range": [728,1026], "nice": false, "zero": false}, "axis": null}, "y": {"datum": 0, "type": "quantitative", "scale": {"domain": [0,0.516], "range": [638,424], "nice": false, "zero": false}, "axis": null}, "y2": {"datum": 0.516}}},
{"data": {"name": "gauss"}, "transform": [{"filter": {"field": "x", "range": [-3.73,3.73]}}], "mark": {"type": "line", "color": "#aaa", "strokeWidth": 1.3, "strokeDash": [5,4], "interpolate": "monotone"}, "encoding": {"x": {"field": "x", "type": "quantitative", "scale": {"domain": [-3.725,3.725], "range": [728,1026], "nice": false, "zero": false}, "axis": null}, "y": {"field": "d", "type": "quantitative", "scale": {"domain": [0,0.516], "range": [638,424], "nice": false, "zero": false}, "axis": null}}},
{"data": {"name": "bot2"}, "mark": {"type": "line", "color": "#999", "strokeWidth": 1.3}, "encoding": {"x": {"field": "x", "type": "quantitative", "scale": {"domain": [-3.725,3.725], "range": [728,1026], "nice": false, "zero": false}, "axis": null}, "y": {"field": "d", "type": "quantitative", "scale": {"domain": [0,0.516], "range": [638,424], "nice": false, "zero": false}, "axis": null}}}
]}
]
}
